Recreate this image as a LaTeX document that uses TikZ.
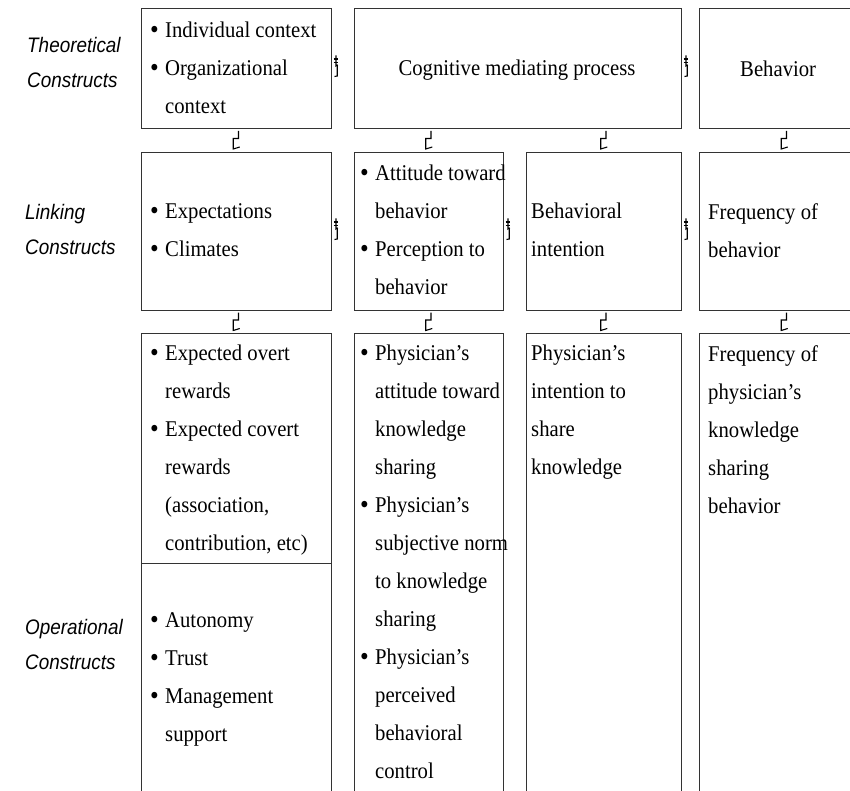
\documentclass[tikz,border=0pt]{standalone}
\usepackage{fontspec}
\setmainfont{Liberation Serif}[FakeStretch=0.92]
\newfontfamily\labelfont{Liberation Sans}[FakeStretch=0.9]
\newcommand{\bul}{\makebox[15pt][l]{\raisebox{-1pt}{\fontsize{27}{27}\selectfont\textbullet}}}
\newcommand{\ind}{\hspace*{15pt}}

\begin{document}
\begin{tikzpicture}[x=1pt, y=-1pt]
  \tikzset{
    box/.style={draw=black!80, line width=1pt, inner sep=0pt, anchor=north west},
    txt/.style={anchor=north west, align=left, inner sep=0pt, font=\fontsize{22.5}{38}\selectfont,
      execute at begin node={\rule{0pt}{17pt}}},
    lab/.style={anchor=north west, align=left, inner sep=0pt, font=\labelfont\itshape\fontsize{21}{35}\selectfont,
      execute at begin node={\rule{0pt}{16pt}}},
    link/.style={draw=black, line width=1.1pt},
    vlink/.pic={\draw[link] (2,-9) -- (2,-1.5) -- (-3.3,-1.5) -- (-3.3,9) -- (3.3,7);},
    hlink/.pic={
      \draw[link] (0,-10.5) -- (0,0) -- (1.8,-1.2);
      \draw[link] (1.2,-0.8) -- (1.2,10) -- (-1.5,10.5);
      \draw[link] (-2.3,-7) -- (2.3,-7);
      \draw[link] (-2.3,-3.5) -- (2.3,-3.5);
    }
  }
  \useasboundingbox (0,0) rectangle (850,791);

  % Etiquetas de las filas (y = linea base - 16)
  \node[lab] (lab_theo) at (27,37) {Theoretical\\Constructs};
  \node[lab] (lab_link) at (25,204) {Linking\\Constructs};
  \node[lab] (lab_oper) at (25,619) {Operational\\Constructs};

  % Cajas de la fila superior
  \node[box, minimum width=190pt, minimum height=120pt] (t1) at (141,8) {};
  \node[box, minimum width=327pt, minimum height=120pt] (t2) at (354,8) {};
  \node[box, minimum width=170pt, minimum height=120pt] (t3) at (699,8) {};

  % Cajas de la fila intermedia
  \node[box, minimum width=190pt, minimum height=158pt] (l1) at (141,152) {};
  \node[box, minimum width=149pt, minimum height=158pt] (l2) at (354,152) {};
  \node[box, minimum width=155pt, minimum height=158pt] (l3) at (526,152) {};
  \node[box, minimum width=170pt, minimum height=158pt] (l4) at (699,152) {};

  % Cajas de la fila inferior
  \node[box, minimum width=190pt, minimum height=470pt] (o1) at (141,333) {};
  \node[box, minimum width=149pt, minimum height=470pt] (o2) at (354,333) {};
  \node[box, minimum width=155pt, minimum height=470pt] (o3) at (526,333) {};
  \node[box, minimum width=170pt, minimum height=470pt] (o4) at (699,333) {};
  \draw[draw=black!80, line width=1pt] ([yshift=-230pt]o1.north west) -- ([yshift=-230pt]o1.north east);

  % Textos (y = linea base - 17)
  \node[txt] (t1_txt) at (150,22) {\bul Individual context\\\bul Organizational\\\ind context};
  \node[txt, anchor=base] (t2_txt) at (517,76) {Cognitive mediating process};
  \node[txt] (t3_txt) at (740,59) {Behavior};

  \node[txt] (l1_txt) at (150,203) {\bul Expectations\\\bul Climates};
  \node[txt] (l2_txt) at (360,165) {\bul Attitude toward\\\ind behavior\\\bul Perception to\\\ind behavior};
  \node[txt] (l3_txt) at (531,203) {Behavioral\\intention};
  \node[txt] (l4_txt) at (708,203) {Frequency of\\behavior};

  \node[txt] (o1_txt) at (150,345) {\bul Expected overt\\\ind rewards\\\bul Expected covert\\\ind rewards\\\ind (association,\\\ind contribution, etc)};
  \node[txt] (o1b_txt) at (150,612) {\bul Autonomy\\\bul Trust\\\bul Management\\\ind support};
  \node[txt] (o2_txt) at (360,345) {\bul Physician’s\\\ind attitude toward\\\ind knowledge\\\ind sharing\\\bul Physician’s\\\ind subjective norm\\\ind to knowledge\\\ind sharing\\\bul Physician’s\\\ind perceived\\\ind behavioral\\\ind control};
  \node[txt] (o3_txt) at (531,345) {Physician’s\\intention to\\share\\knowledge};
  \node[txt] (o4_txt) at (708,345) {Frequency of\\physician’s\\knowledge\\sharing\\behavior};

  % Enlaces entre filas
  \pic at ([yshift=12pt]l1.north) {vlink};
  \pic at ([yshift=12pt]l2.north) {vlink};
  \pic at ([yshift=12pt]l3.north) {vlink};
  \pic at ([yshift=12pt]l4.north) {vlink};
  \pic at ([yshift=11.5pt]o1.north) {vlink};
  \pic at ([yshift=11.5pt]o2.north) {vlink};
  \pic at ([yshift=11.5pt]o3.north) {vlink};
  \pic at ([yshift=11.5pt]o4.north) {vlink};

  % Enlaces dentro de cada fila
  \pic at ([xshift=4pt, yshift=2.5pt]t1.east) {hlink};
  \pic at ([xshift=4pt, yshift=2.5pt]t2.east) {hlink};
  \pic at ([xshift=4pt, yshift=2.5pt]l1.east) {hlink};
  \pic at ([xshift=4pt, yshift=2.5pt]l2.east) {hlink};
  \pic at ([xshift=4pt, yshift=2.5pt]l3.east) {hlink};
\end{tikzpicture}
\end{document}
